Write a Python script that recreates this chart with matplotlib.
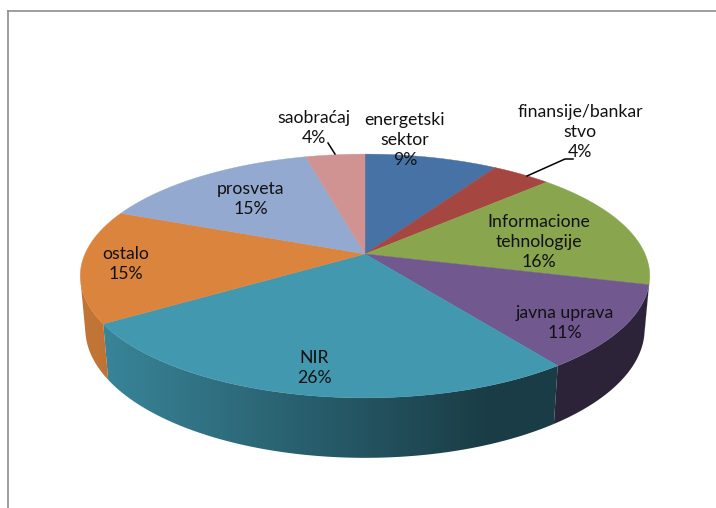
import matplotlib
matplotlib.use("Agg")
import matplotlib.pyplot as plt
import numpy as np
from matplotlib.colors import to_rgb
from matplotlib.patches import Polygon

# data
names = ["energetski\nsektor", "finansije/bankar\nstvo", "Informacione\ntehnologije",
         "javna uprava", "NIR", "ostalo", "prosveta", "saobraćaj"]
shares = [9, 4, 16, 11, 26, 15, 15, 4]

# style / layout
colors = ["#4672a6", "#a64641", "#89a54e", "#71588f", "#4198af", "#db843d", "#93a9cf", "#d19392"]
label_xy = [(405, 140), (580, 132), (539, 242), (565, 323),
            (314, 368), (126, 264), (251, 199), (314, 128)]

# perspective camera for the 3d disc (pixel space)
CX, CY = 365, 254
F = 1408.0
DIST = 5.028
ELEV = np.radians(24.9)
THICK = 0.2075


def project(theta, z=0.0):
    u, v = np.cos(theta), np.sin(theta)
    depth = DIST + v * np.cos(ELEV) - z * np.sin(ELEV)
    x = CX + F * u / depth
    y = CY - F * (v * np.sin(ELEV) + z * np.cos(ELEV)) / depth
    return x, y


def shade(x):
    # lighting from the left, darker to the right
    t = (x - CX) / 285.0
    return np.clip(0.55 - 0.35 * t, 0.4, 0.88)


fig = plt.figure(figsize=(7.16, 5.08), dpi=100)
ax = fig.add_axes([0, 0, 1, 1])
ax.axis("off")

fracs = np.array(shares, dtype=float) / np.sum(shares)
bounds = np.pi / 2 - 2 * np.pi * np.concatenate([[0], np.cumsum(fracs)])

# visible part of the side wall lies between the two silhouette angles
s_lim = np.arcsin(1.0 / (DIST * np.cos(ELEV)))
vis_lo, vis_hi = -np.pi + s_lim, -s_lim

gx = np.linspace(60, 670, 610)
for i, col in enumerate(colors):
    a_hi, a_lo = bounds[i], bounds[i + 1]
    lo, hi = max(a_lo, vis_lo), min(a_hi, vis_hi)
    if lo >= hi:
        continue
    ts = np.linspace(hi, lo, 120)
    xt, yt = project(ts)
    xb, yb = project(ts[::-1], -THICK)
    side = Polygon(list(zip(xt, yt)) + list(zip(xb, yb)), closed=True,
                   facecolor="none", edgecolor="none")
    ax.add_patch(side)
    grad = np.array(to_rgb(col))[None, None, :] * shade(gx)[None, :, None]
    grad = np.repeat(grad, 2, axis=0)
    im = ax.imshow(grad, extent=(60, 670, 480, 140), aspect="auto",
                   interpolation="bilinear", zorder=1)
    im.set_clip_path(side)

# top face
for i, col in enumerate(colors):
    ts = np.linspace(bounds[i], bounds[i + 1], 80)
    xs, ys = project(ts)
    pts = [(CX, CY)] + list(zip(xs, ys))
    ax.add_patch(Polygon(pts, closed=True, facecolor=col, edgecolor=col,
                         lw=0.3, zorder=2))

# labels
for name, val, (lx, ly) in zip(names, shares, label_xy):
    ax.text(lx, ly, f"{name}\n{val}%", ha="center", va="center", fontsize=12.7,
            family="Lato", color="#111111", linespacing=1.3, zorder=4)

# leader lines
ax.plot([573, 565, 527], [159, 159, 176], color="black", lw=1.1, zorder=3)
ax.plot([328, 335], [143, 154], color="black", lw=1.1, zorder=3)

# chart frame
ax.plot([8, 716], [10.5, 10.5], color="#8c8c8c", lw=1.2)
ax.plot([8, 8], [10.5, 508], color="#8c8c8c", lw=1.2)

ax.set_xlim(0, 716)
ax.set_ylim(508, 0)

fig.savefig("out.png", dpi=100)
plt.close(fig)
